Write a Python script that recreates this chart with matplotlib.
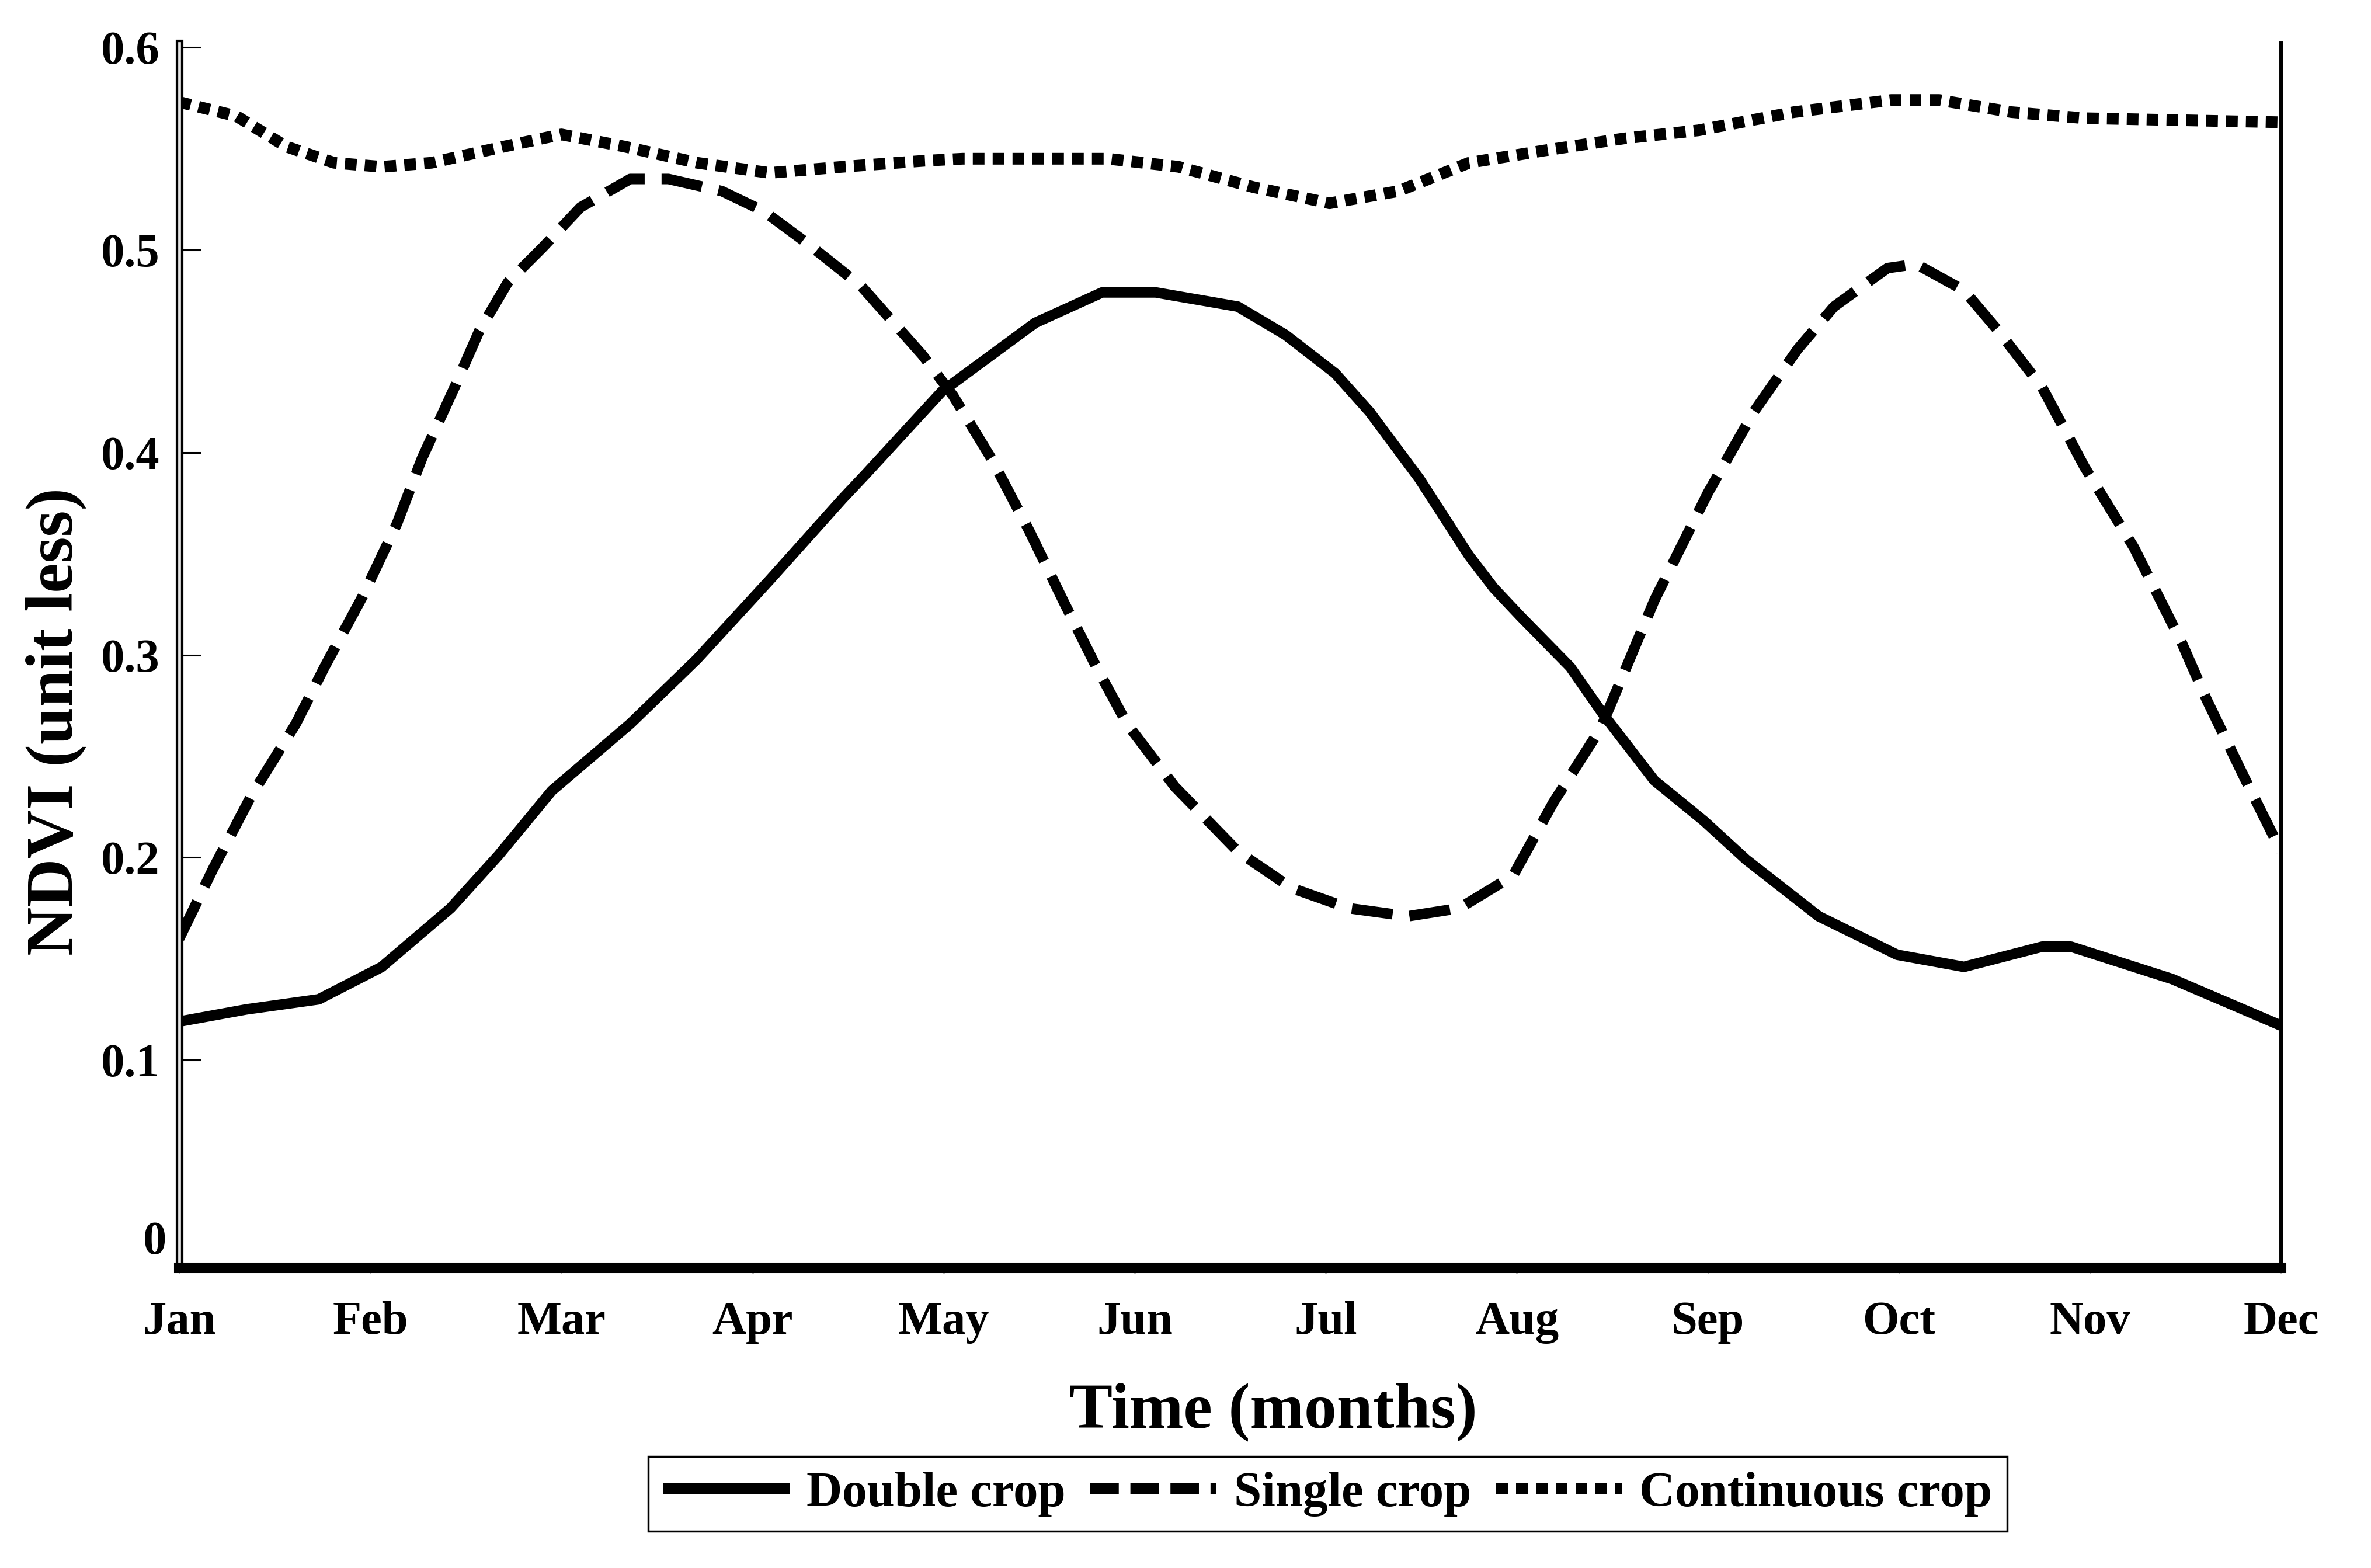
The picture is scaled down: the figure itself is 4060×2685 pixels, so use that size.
import matplotlib
matplotlib.use("Agg")
import matplotlib.pyplot as plt
import matplotlib.patheffects as pe
from matplotlib.lines import Line2D

plt.rcParams['font.family'] = ['Liberation Serif', 'DejaVu Serif']
plt.rcParams['font.weight'] = 'bold'

months = ['Jan', 'Feb', 'Mar', 'Apr', 'May', 'Jun', 'Jul', 'Aug', 'Sep', 'Oct', 'Nov', 'Dec']
y_ticks = [0.1, 0.2, 0.3, 0.4, 0.5, 0.6]
y_ticklabels = ['0.1', '0.2', '0.3', '0.4', '0.5', '0.6']

double_x = [0.00, 0.35, 0.73, 1.06, 1.42, 1.67, 1.95, 2.36, 2.71, 3.09, 3.47, 3.59, 3.99,
            4.48, 4.83, 5.11, 5.54, 5.79, 6.05, 6.23, 6.49, 6.62, 6.75, 6.88, 7.02, 7.28, 7.45, 7.72,
            7.98, 8.20, 8.58, 8.99, 9.34, 9.75, 9.90, 10.43, 11.00]
double_y = [0.119, 0.125, 0.130, 0.146, 0.175, 0.201, 0.233, 0.266, 0.298, 0.337, 0.377, 0.389, 0.430,
            0.464, 0.479, 0.479, 0.472, 0.458, 0.439, 0.420, 0.387, 0.368, 0.349, 0.333, 0.319, 0.294, 0.271, 0.238,
            0.218, 0.199, 0.171, 0.152, 0.146, 0.156, 0.156, 0.140, 0.117]

single_x = [0.00, 0.18, 0.38, 0.61, 0.76, 0.96, 1.14, 1.27, 1.44, 1.57, 1.72, 1.90, 2.10, 2.36,
            2.56, 2.84, 3.06, 3.29, 3.57, 3.89, 4.05, 4.25, 4.45, 4.63, 4.80, 4.96, 5.21, 5.54,
            5.82, 6.12, 6.43, 6.70, 6.98, 7.19, 7.44, 7.72, 8.00, 8.24, 8.47, 8.66, 8.94,
            9.09, 9.34, 9.52, 9.75, 9.97, 10.23, 10.48, 10.61, 10.81, 11.00]
single_y = [0.160, 0.195, 0.231, 0.266, 0.294, 0.329, 0.365, 0.397, 0.432, 0.460, 0.484, 0.501, 0.521, 0.535,
            0.535, 0.529, 0.519, 0.503, 0.482, 0.448, 0.428, 0.397, 0.361, 0.326, 0.294, 0.266, 0.235, 0.203,
            0.185, 0.175, 0.171, 0.175, 0.191, 0.227, 0.264, 0.327, 0.380, 0.420, 0.451, 0.472, 0.491,
            0.493, 0.480, 0.460, 0.432, 0.393, 0.353, 0.306, 0.278, 0.239, 0.203]

cont_x = [0.00, 0.30, 0.56, 0.81, 1.06, 1.32, 1.70, 2.00, 2.33, 2.71, 3.09, 3.47, 3.90, 4.10,
          4.86, 5.23, 5.62, 6.02, 6.38, 6.75, 7.14, 7.56, 7.95, 8.45, 8.96, 9.21, 9.59, 9.97, 11.00]
cont_y = [0.573, 0.566, 0.551, 0.543, 0.541, 0.543, 0.551, 0.557, 0.551, 0.543, 0.538, 0.541, 0.544, 0.545,
          0.545, 0.541, 0.531, 0.523, 0.529, 0.543, 0.549, 0.555, 0.559, 0.568, 0.574, 0.574, 0.568, 0.565, 0.563]

labels = ['Double crop', 'Single crop', 'Continuous crop']

fig = plt.figure(figsize=(40.6, 26.85), dpi=100)
ax = fig.add_axes([0.0756, 0.1914, 0.8865, 0.7810])

ax.plot(double_x, double_y, color='black', lw=13, solid_capstyle='butt', solid_joinstyle='round')
ax.plot(single_x, single_y, color='black', lw=13, dashes=(3.9, 1.6), dash_capstyle='butt')
ax.plot(cont_x, cont_y, color='black', lw=14.4, dashes=(1.0, 0.7), dash_capstyle='butt')

ax.set_xlim(0, 11)
ax.set_ylim(-0.0026, 0.602)

ax.set_xticks(range(len(months)))
ax.set_xticklabels(months)
ax.set_yticks(y_ticks)
ax.set_yticklabels(y_ticklabels)

ax.tick_params(axis='x', direction='out', length=7, width=2, color='#b8b8b8',
               labelsize=58, pad=34, labelcolor='black')
ax.tick_params(axis='y', direction='in', length=26.6, width=2.2, color='black',
               labelsize=58, pad=24)
for lbl in ax.get_xticklabels() + ax.get_yticklabels():
    lbl.set_fontweight('bold')

ax.text(-0.0060, 0.0101, '0', transform=ax.get_yaxis_transform(), ha='right', va='center',
        fontsize=58, fontweight='bold')

ax.spines['top'].set_visible(False)
ax.spines['bottom'].set_linewidth(13)
ax.spines['right'].set_linewidth(5)
ax.spines['left'].set_linewidth(9.5)
ax.spines['left'].set_path_effects([pe.Stroke(linewidth=9.5, foreground='black'),
                                    pe.Stroke(linewidth=3.4, foreground='#e4e4e4')])

fig.text(0.0236, 0.540, 'NDVI (unit less)', rotation=90, ha='center', va='center',
         fontsize=83, fontweight='bold')
fig.text(0.537, 0.0994, 'Time (months)', ha='center', va='center',
         fontsize=80, fontweight='bold')

handles = [Line2D([], [], color='black', lw=13, solid_capstyle='butt'),
           Line2D([], [], color='black', lw=13, dashes=(2.7, 1.1), dash_capstyle='butt'),
           Line2D([], [], color='black', lw=14.4, dashes=(1.0, 0.7), dash_capstyle='butt')]
leg = fig.legend(handles, labels, loc='center', bbox_to_anchor=(0.560, 0.0473), ncol=3,
                 frameon=True, fancybox=False, edgecolor='black', framealpha=1,
                 borderpad=0.3, handlelength=2.55, handletextpad=0.35, columnspacing=0.5,
                 prop={'family': ['Liberation Serif', 'DejaVu Serif'], 'weight': 'bold', 'size': 61})
leg.get_frame().set_linewidth(2.5)

fig.savefig('out.png', dpi=100, facecolor='white')
